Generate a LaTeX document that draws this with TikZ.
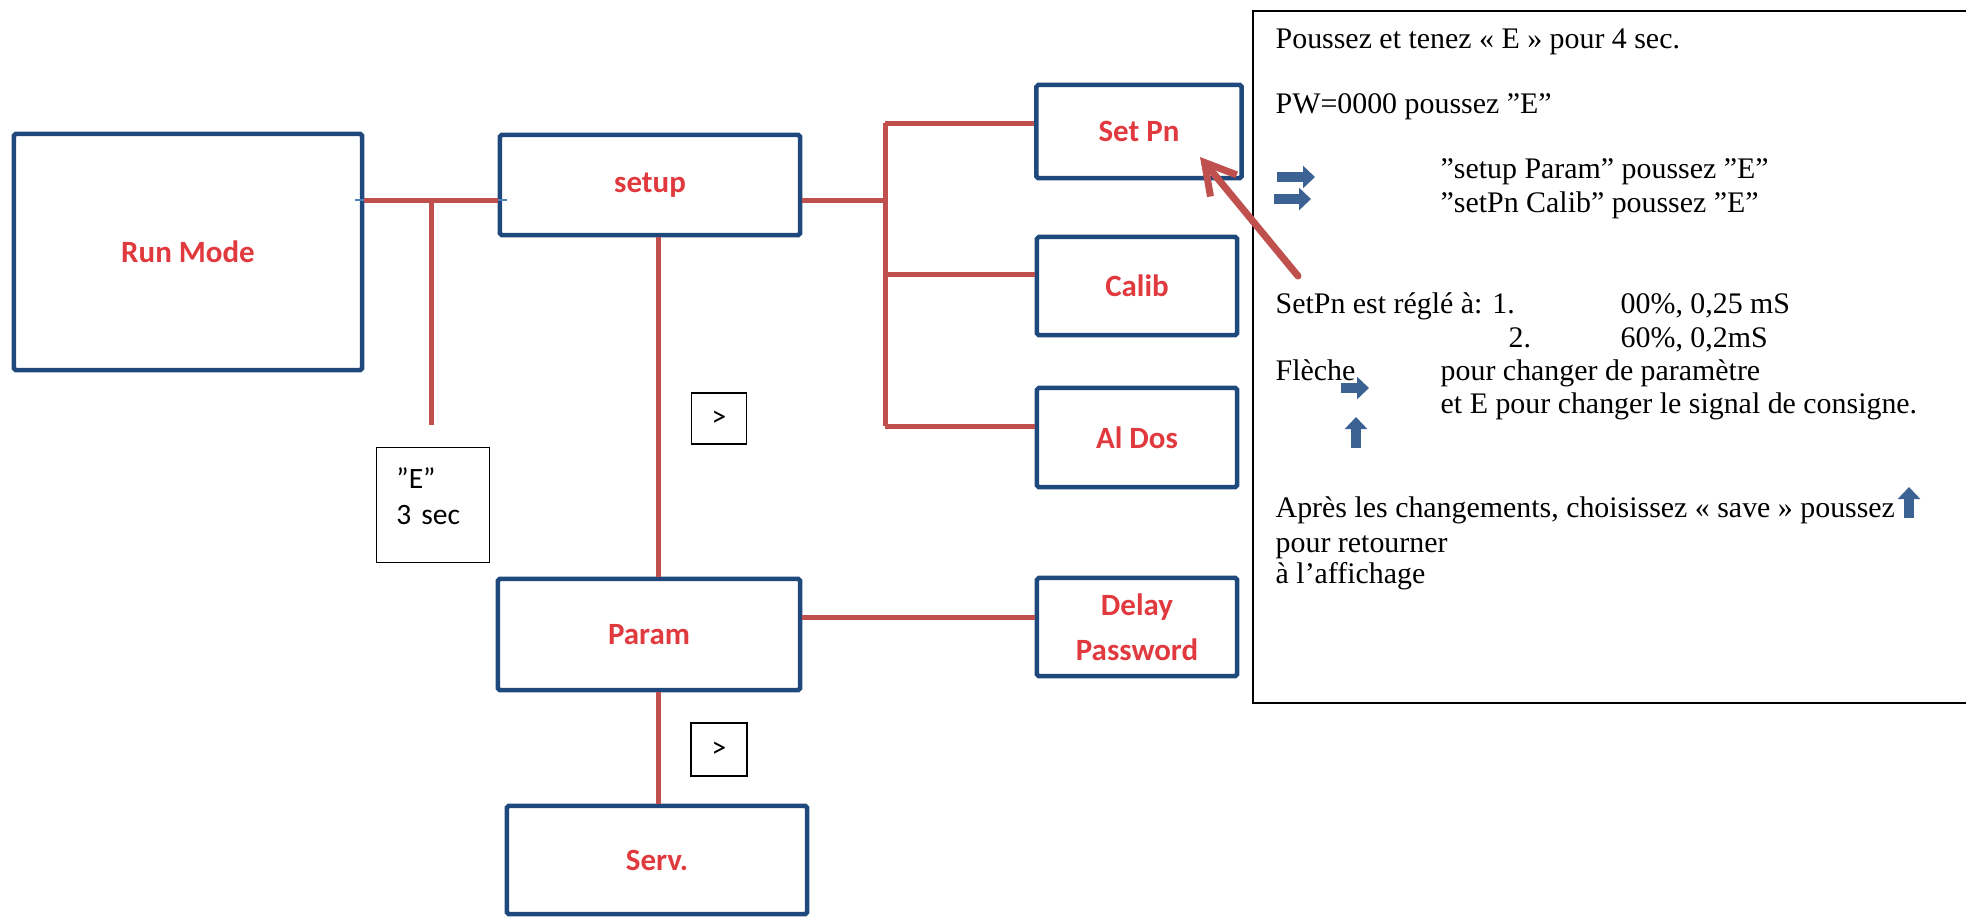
\documentclass[tikz,border=0pt]{standalone}
\usepackage{fontspec}
\setmainfont{Liberation Serif}
\newfontfamily\carlito{Carlito}
\usetikzlibrary{arrows.meta, calc}
\definecolor{navy}{HTML}{1F497D}
\definecolor{brick}{HTML}{C0504D}
\definecolor{wire}{HTML}{4F81BD}
\definecolor{steel}{HTML}{3C6193}
\definecolor{flame}{HTML}{E0393E}
\tikzset{
  menu/.style    ={draw=navy, line width=0.045cm, rounded corners=0.5pt,
                   font=\carlito\bfseries\fontsize{8.8}{12.8}\selectfont,
                   text=flame, align=center, inner sep=0pt},
  hint/.style    ={draw=black, line width=0.012cm, inner sep=0pt,
                   font=\carlito\fontsize{8.4}{10.2}\selectfont},
  link/.style    ={draw=brick, line width=0.05cm},
  seam/.style    ={draw=wire, line width=0.012cm},
  pointer/.style ={draw=brick, line width=0.07cm, line cap=round,
                   -{Straight Barb[length=0.3cm,width=0.34cm]}},
  keyarrow/.style={draw=steel, line width=0.1cm,
                   -{Triangle[length=0.12cm,width=0.22cm]}},
  note/.style    ={anchor=base west, inner sep=0pt,
                   font=\fontsize{8.5}{10}\selectfont}
}
\begin{document}
\begin{tikzpicture}[x=0.01cm, y=-0.01cm]
  \useasboundingbox (0,0) rectangle (1966,917);
  \clip (0,0) rectangle (1966,917);

  % menu boxes
  \node[menu, minimum width=3.48cm, minimum height=2.36cm] (runmode) at (188,252)   {Run Mode};
  \node[menu, minimum width=3.0cm,  minimum height=1.0cm]  (setup)   at (650,185)   {setup};
  \node[menu, minimum width=3.02cm, minimum height=1.11cm] (param)   at (649,634.5) {Param};
  \node[menu, minimum width=3.0cm,  minimum height=1.08cm] (serv)    at (657,860)   {Serv.};
  \node[menu, minimum width=2.05cm, minimum height=0.93cm] (setpn)   at (1139,131.5) {Set Pn};
  \node[menu, minimum width=2.0cm,  minimum height=0.98cm] (calib)   at (1137,286)  {Calib};
  \node[menu, minimum width=2.0cm,  minimum height=0.99cm] (aldos)   at (1137,437.5) {Al Dos};
  \node[menu, minimum width=2.0cm,  minimum height=0.98cm] (delay)   at (1137,627)  {Delay\\Password};

  % key hints
  \node[hint, minimum width=1.13cm, minimum height=1.15cm, text width=0.73cm,
        align=left, text depth=0.54cm] (ekey) at (433,505) {”E”\\3 sec};
  \node[hint, minimum width=0.55cm, minimum height=0.51cm] (nxta) at (719,418.5) {>};
  \node[hint, minimum width=0.56cm, minimum height=0.53cm] (nxtb) at (719,749.5) {>};

  % connectors
  \coordinate (tj)    at (431,200);
  \coordinate (tjend) at (431,425);
  \draw[seam] ($(runmode.east |- tj)+(-9,0)$) -- ($(setup.west |- tj)+(9,0)$);
  \draw[link] (runmode.east |- tj) -- (setup.west |- tj);
  \draw[link] (tj) -- (tjend);

  \coordinate (b1) at (885,123);
  \coordinate (b2) at (885,274);
  \coordinate (b3) at (885,426);
  \draw[link] (setup.east |- tj) -- (b1 |- tj);
  \draw[link] (b1) -- (b3);
  \foreach \n/\b in {setpn/b1, calib/b2, aldos/b3}
    \draw[link] (\b) -- (\n.west |- \b);

  \coordinate (vx) at (658,0);
  \draw[link] (setup.south -| vx) -- (param.north -| vx);
  \draw[link] (param.south -| vx) -- (serv.north -| vx);
  \coordinate (pd) at (795,617);
  \draw[link] (param.east |- pd) -- (delay.west |- pd);

  % info panel
  \node[draw=black, line width=0.02cm, minimum width=7.22cm, minimum height=6.92cm,
        inner sep=0pt] (info) at (1614,357) {};
  \node[note] (t1)  at (1275,48)  {Poussez et tenez « E » pour 4 sec.};
  \node[note] (t2)  at (1275,113) {PW=0000 poussez ”E”};
  \node[note] (t3)  at (1440,178) {”setup Param” poussez ”E”};
  \node[note] (t4)  at (1440,212) {”setPn Calib” poussez ”E”};
  \node[note] (t5)  at (1275,313) {SetPn est réglé à: 1.};
  \node[note] (t6)  at (1620,313) {00\%, 0,25 mS};
  \node[note] (t7)  at (1508,347) {2.};
  \node[note] (t8)  at (1620,347) {60\%, 0,2mS};
  \node[note] (t9)  at (1275,380) {Flèche};
  \node[note] (t10) at (1440,380) {pour changer de paramètre};
  \node[note] (t11) at (1440,413) {et E pour changer le signal de consigne.};
  \node[note] (t12) at (1275,517) {Après les changements, choisissez « save » poussez};
  \node[note] (t13) at (1275,552) {pour retourner};
  \node[note] (t14) at (1275,583) {à l’affichage};

  % key arrows
  \draw[keyarrow] (1277,177) -- (1315,177);
  \draw[keyarrow] (1274,199) -- (1311,199);
  \draw[keyarrow] (1341,388) -- (1369,388);
  \draw[keyarrow] (1356,448) -- (1356,417);
  \draw[keyarrow] (1909,518) -- (1909,487);

  \coordinate (ptail) at (1298,276);
  \coordinate (ptip)  at (1200,157);
  \draw[pointer] (ptail) -- (ptip);
\end{tikzpicture}
\end{document}
